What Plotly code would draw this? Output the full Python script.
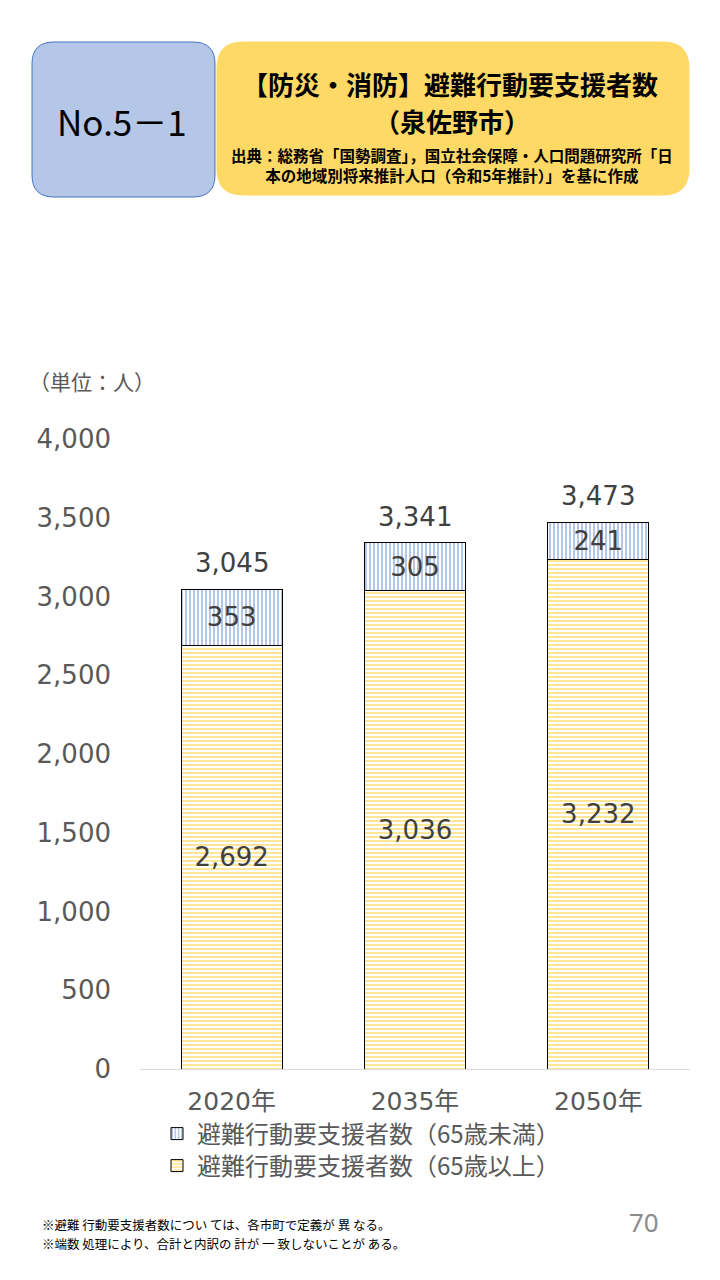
import plotly.graph_objects as go

# données
annees = ["2020年", "2035年", "2050年"]
moins_65 = [353, 305, 241]
plus_65 = [2692, 3036, 3232]
totaux = [3045, 3341, 3473]
graduations = [0, 500, 1000, 1500, 2000, 2500, 3000, 3500, 4000]

police = "Noto Sans CJK JP"
chiffres = "DejaVu Sans, Noto Sans CJK JP"
gris = "#595959"

# la page a une marge de 8px -> figure un peu plus petite
W, H = 712, 1272
L, R, T, B = 132, 30, 431, 211


def sx(x):
    return (x - 8 - L) / (W - L - R)


def sy(y):
    return (H - B - (y - 8)) / (H - T - B)


def rect_arrondi(x0, y0, x1, y1, r):
    X = lambda v: f"{sx(v):.5f}"
    Y = lambda v: f"{sy(v):.5f}"
    return (f"M {X(x0 + r)},{Y(y0)} L {X(x1 - r)},{Y(y0)} Q {X(x1)},{Y(y0)} {X(x1)},{Y(y0 + r)} "
            f"L {X(x1)},{Y(y1 - r)} Q {X(x1)},{Y(y1)} {X(x1 - r)},{Y(y1)} "
            f"L {X(x0 + r)},{Y(y1)} Q {X(x0)},{Y(y1)} {X(x0)},{Y(y1 - r)} "
            f"L {X(x0)},{Y(y0 + r)} Q {X(x0)},{Y(y0)} {X(x0 + r)},{Y(y0)} Z")


fig = go.Figure()

fig.add_trace(go.Bar(
    x=annees, y=plus_65, name="避難行動要支援者数（65歳以上）", legend="legend",
    marker=dict(color="white", line=dict(color="black", width=1),
                pattern=dict(shape="-", fgcolor="#FFC000", bgcolor="white", size=4, solidity=0.4)),
    texttemplate="%{y:,}", textposition="inside", insidetextanchor="middle",
    textfont=dict(size=26, color="#404040", family=chiffres), textangle=0,
))
fig.add_trace(go.Bar(
    x=annees, y=moins_65, name="避難行動要支援者数（65歳未満）", legend="legend2",
    marker=dict(color="white", line=dict(color="black", width=1),
                pattern=dict(shape="|", fgcolor="#4472C4", bgcolor="white", size=4, solidity=0.4)),
    texttemplate="%{y:,}", textposition="inside", insidetextanchor="middle",
    textfont=dict(size=26, color="#404040", family=chiffres), textangle=0,
))

for a, t in zip(annees, totaux):
    fig.add_annotation(x=a, y=t, text=f"{t:,}", showarrow=False, yanchor="bottom", yshift=9,
                       font=dict(size=26, color="#404040", family=chiffres))

# en-tête
fig.add_shape(type="path", xref="paper", yref="paper", path=rect_arrondi(32, 42, 215, 197, 22),
              fillcolor="#B4C7E7", line=dict(color="#4472C4", width=1), layer="above")
fig.add_shape(type="path", xref="paper", yref="paper", path=rect_arrondi(217, 42, 689, 195, 26),
              fillcolor="#FFD966", line=dict(color="#FFD966", width=1), layer="above")

textes = [
    (122, 120, "No.5－1", 35, "black", police),
    (450, 83, "<b>【防災・消防】避難行動要支援者数</b>", 26, "black", police),
    (452, 120, "<b>（泉佐野市）</b>", 26, "black", police),
    (452, 165, "<b>出典：総務省「国勢調査」，国立社会保障・人口問題研究所「日<br>本の地域別将来推計人口（令和5年推計）」を基に作成</b>",
     15.5, "black", police),
    (92, 381, "（単位：人）", 21, gris, police),
    (644, 1222, "70", 26, "#8C8C8C", "Noto Sans"),
]
for x, y, t, s, c, f in textes:
    fig.add_annotation(x=sx(x), y=sy(y), xref="paper", yref="paper", text=t, showarrow=False,
                       xanchor="center", yanchor="middle", font=dict(size=s, color=c, family=f))

notes = ["※避難 行動要支援者数につい ては、各市町で定義が 異 なる。",
         "※端数 処理により、合計と内訳の 計が 一 致しないことが ある。"]
for y, t in zip([1224, 1243], notes):
    fig.add_annotation(x=sx(40), y=sy(y), xref="paper", yref="paper", showarrow=False,
                       xanchor="left", yanchor="middle", text=t,
                       font=dict(size=12.5, color="black", family=police))

leg = dict(xanchor="left", yanchor="middle", bgcolor="rgba(0,0,0,0)", itemwidth=30,
           font=dict(size=24, color=gris, family=police))
fig.update_layout(
    width=W, height=H, barmode="stack", bargap=0.45,
    margin=dict(l=L, r=R, t=T, b=B, autoexpand=False),
    paper_bgcolor="white", plot_bgcolor="white",
    font=dict(family=police, color=gris),
    showlegend=True,
    legend=dict(x=sx(157), y=sy(1166), **leg),
    legend2=dict(x=sx(157), y=sy(1134), **leg),
)
fig.update_yaxes(range=[0, 4000], tickvals=graduations, tickformat=",", showgrid=False,
                 zeroline=False, showline=False, ticklabelstandoff=28,
                 tickfont=dict(size=26, color=gris, family=chiffres))
fig.update_xaxes(showline=True, linecolor="#D9D9D9", linewidth=1, ticks="", ticklabelstandoff=10,
                 tickfont=dict(size=25, color=gris, family=chiffres))

fig.write_html("out.html")
